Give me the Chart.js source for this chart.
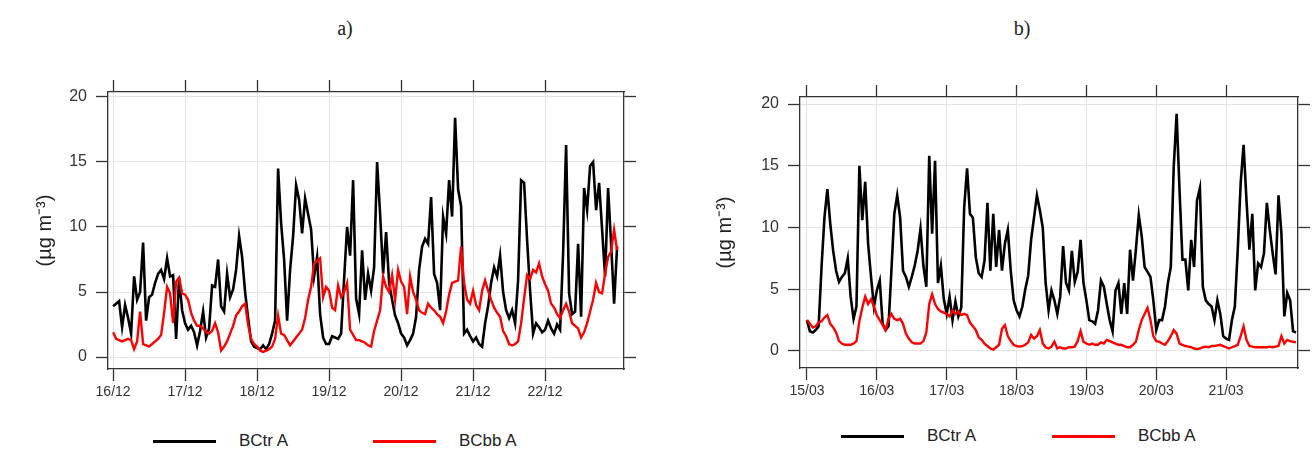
<!DOCTYPE html>
<html>
<head>
<meta charset="utf-8">
<script src="https://cdn.jsdelivr.net/npm/chart.js@4.4.0/dist/chart.umd.min.js"></script>
<style>
  body { margin: 0; background: #fff; width: 1312px; height: 450px; position: relative; overflow: hidden; font-family: "Liberation Sans", Arial, sans-serif; color: #222; }
  canvas { position: absolute; top: 0; }
  #chartA { left: 0; }
  #chartB { left: 656px; }
  .title { position: absolute; top: 14px; width: 40px; text-align: center; font-family: "Liberation Serif", serif; font-size: 20px; line-height: 28px; }
  .item { position: absolute; height: 24px; display: flex; align-items: center; font-size: 17px; white-space: nowrap; }
  .swatch { display: inline-block; width: 63px; height: 0; border-top: 3px solid #000; margin-right: 23px; }
</style>
</head>
<body>
<div class="title" style="left:325px">a)</div>
<div class="title" style="left:1002px">b)</div>

<div class="item" style="left:153px; top:429px"><span class="swatch"></span>BCtr A</div>
<div class="item" style="left:373px; top:429px"><span class="swatch" style="border-color:#ff0000"></span>BCbb A</div>
<div class="item" style="left:841px; top:424px"><span class="swatch"></span>BCtr A</div>
<div class="item" style="left:1052px; top:424px"><span class="swatch" style="border-color:#ff0000"></span>BCbb A</div>

<canvas id="chartA" width="656" height="450"></canvas>
<canvas id="chartB" width="656" height="450"></canvas>

<script>
// hourly readings
const SAMPLE_STEP_H = 1;

const daysA = ['16/12', '17/12', '18/12', '19/12', '20/12', '21/12', '22/12'];
const daysB = ['15/03', '16/03', '17/03', '18/03', '19/03', '20/03', '21/03'];
const yTicks = [0, 5, 10, 15, 20];

// a) December, from 16/12 00:00, one row = 12 h
const bctrA = [
  3.9, 4.1, 4.3, 2.3, 4.0, 3.0, 1.8, 6.2, 4.4, 5.0, 8.8, 2.8,
  4.6, 4.8, 5.7, 6.4, 6.7, 6.0, 7.6, 6.2, 6.3, 1.4, 6.1, 3.6,
  2.6, 2.1, 2.4, 1.9, 0.9, 2.0, 3.5, 1.5, 2.2, 5.5, 5.4, 7.5,
  3.9, 3.5, 6.4, 4.6, 5.2, 6.7, 9.3, 7.7, 5.0, 3.0, 1.2, 0.8,
  0.7, 0.6, 0.9, 0.6, 1.0, 1.8, 2.8, 14.5, 10.3, 7.5, 2.8, 6.7,
  9.3, 13.2, 12.1, 9.5, 12.2, 11.0, 9.8, 6.2, 7.7, 3.3, 1.5, 1.0,
  1.0, 1.6, 1.5, 1.4, 1.8, 6.0, 10.0, 7.8, 13.6, 4.5, 3.3, 8.2,
  4.4, 6.4, 5.1, 6.9, 15.0, 11.0, 6.4, 9.6, 5.7, 4.4, 3.2, 2.6,
  1.8, 1.5, 0.9, 1.3, 1.8, 3.1, 6.7, 8.5, 9.1, 8.7, 12.3, 6.4,
  5.7, 3.6, 10.8, 9.5, 13.6, 10.8, 18.4, 12.9, 11.6, 1.8, 2.1, 1.6,
  1.2, 1.5, 1.0, 0.8, 2.6, 3.9, 5.7, 6.9, 6.2, 7.8, 5.0, 3.6,
  3.0, 3.6, 2.6, 5.9, 13.6, 13.4, 9.0, 5.1, 1.8, 2.6, 2.3, 1.9,
  2.1, 2.8, 2.2, 1.8, 2.5, 2.1, 8.0, 16.3, 4.9, 3.3, 3.5, 8.7,
  3.1, 13.0, 11.3, 14.7, 15.0, 11.3, 13.4, 9.8, 6.2, 13.0, 8.7, 4.1,
  8.5];
const bcbbA = [
  1.9, 1.4, 1.3, 1.2, 1.3, 1.4, 1.3, 0.6, 1.2, 3.5, 1.0, 0.9,
  0.8, 1.0, 1.2, 1.4, 1.7, 3.4, 5.4, 4.9, 2.6, 5.8, 6.1, 4.9,
  4.8, 4.4, 3.4, 2.8, 2.4, 2.4, 2.2, 1.9, 1.8, 2.0, 2.6, 1.9,
  0.5, 0.8, 1.2, 1.8, 2.4, 3.2, 3.5, 3.9, 4.1, 2.5, 1.4, 1.0,
  0.8, 0.5, 0.4, 0.5, 0.6, 0.8, 1.4, 3.2, 1.8, 1.7, 1.3, 0.9,
  1.2, 1.5, 1.8, 2.1, 3.0, 4.4, 5.4, 7.2, 7.4, 7.6, 4.6, 5.4,
  5.1, 3.8, 3.6, 5.5, 4.6, 5.0, 5.7, 2.1, 1.7, 1.3, 1.3, 1.2,
  1.1, 0.9, 0.8, 2.0, 2.8, 3.6, 6.2, 5.4, 5.0, 6.3, 4.4, 6.7,
  5.8, 5.4, 3.3, 6.2, 5.0, 4.4, 3.6, 3.4, 3.3, 4.1, 3.8, 3.6,
  3.3, 3.1, 2.6, 3.5, 4.8, 5.7, 5.8, 5.9, 8.5, 5.7, 4.4, 4.1,
  5.1, 4.0, 3.6, 5.1, 5.9, 5.1, 4.4, 3.8, 3.4, 3.1, 2.0, 1.6,
  1.0, 0.9, 1.0, 1.2, 2.6, 4.5, 6.3, 6.0, 6.7, 6.5, 7.2, 6.2,
  5.6, 5.1, 4.1, 3.8, 3.3, 3.0, 3.6, 4.1, 3.5, 2.6, 2.4, 2.2,
  1.5, 1.9, 2.6, 3.5, 4.4, 5.7, 5.0, 4.9, 6.4, 7.7, 8.1, 9.8,
  8.2];

// b) March, from 15/03 00:00, one row = 12 h
const bctrB = [
  2.5, 1.6, 1.5, 1.7, 2.0, 6.8, 10.8, 13.1, 10.3, 8.1, 6.5, 5.6,
  6.0, 6.3, 7.5, 4.4, 2.6, 3.6, 15.0, 10.6, 13.7, 8.7, 6.0, 3.6,
  4.9, 5.7, 2.2, 1.7, 2.0, 6.5, 11.1, 12.6, 10.8, 6.5, 6.0, 5.2,
  6.0, 6.9, 8.1, 9.9, 6.9, 5.2, 15.8, 9.5, 15.4, 5.5, 6.9, 4.2,
  3.0, 4.4, 2.5, 4.0, 2.8, 3.5, 11.6, 14.8, 11.1, 10.8, 7.6, 6.3,
  6.0, 7.3, 12.0, 6.5, 11.1, 6.8, 9.8, 6.5, 8.7, 9.8, 6.5, 4.1,
  3.3, 2.8, 3.6, 5.0, 6.1, 9.0, 10.8, 12.6, 11.4, 10.0, 5.5, 3.3,
  4.9, 4.1, 3.0, 4.4, 8.5, 5.5, 4.9, 8.1, 5.6, 6.4, 9.0, 5.5,
  4.1, 2.5, 2.4, 2.2, 3.3, 5.7, 5.2, 3.8, 2.5, 1.6, 4.9, 5.5,
  3.0, 5.5, 3.0, 8.2, 5.7, 8.2, 11.0, 9.3, 6.8, 6.4, 6.0, 4.1,
  1.7, 2.5, 2.5, 3.6, 5.5, 6.8, 14.9, 19.2, 13.0, 7.4, 7.4, 4.9,
  9.0, 6.8, 12.2, 13.2, 5.2, 4.1, 3.8, 3.6, 2.5, 4.1, 3.0, 1.2,
  1.0, 0.9, 2.5, 3.6, 8.2, 13.6, 16.7, 12.2, 8.2, 11.1, 4.9, 7.1,
  6.8, 7.9, 12.0, 9.8, 7.9, 6.2, 12.6, 9.5, 2.8, 4.7, 4.1, 1.6,
  1.5];
const bcbbB = [
  2.5, 2.2, 1.9, 2.0, 2.3, 2.4, 2.7, 2.9, 2.2, 1.9, 1.5, 0.8,
  0.6, 0.5, 0.5, 0.5, 0.6, 0.8, 2.4, 3.5, 4.4, 3.8, 4.2, 3.6,
  2.9, 2.5, 2.1, 1.7, 2.6, 3.0, 2.6, 2.5, 2.6, 2.2, 1.4, 1.0,
  0.7, 0.6, 0.6, 0.6, 0.8, 1.5, 3.8, 4.6, 3.8, 3.4, 3.2, 3.1,
  3.0, 2.8, 3.3, 3.0, 3.2, 2.9, 3.0, 2.9, 2.3, 2.0, 1.7, 1.1,
  0.9, 0.6, 0.4, 0.2, 0.1, 0.3, 0.5, 1.8, 2.1, 1.2, 0.8, 0.5,
  0.4, 0.35, 0.4, 0.5, 0.7, 1.3, 1.0, 1.2, 1.7, 0.6, 0.3, 0.2,
  0.35, 0.75, 0.2, 0.3, 0.2, 0.2, 0.3, 0.3, 0.35, 0.8, 1.6, 0.75,
  0.6, 0.5, 0.6, 0.5, 0.5, 0.7, 0.6, 0.9, 0.8, 0.7, 0.6, 0.5,
  0.5, 0.4, 0.3, 0.3, 0.5, 0.75, 1.7, 2.5, 3.0, 3.5, 2.5, 1.2,
  0.8, 0.75, 0.6, 0.5, 0.8, 1.2, 1.7, 1.4, 0.6, 0.5, 0.4, 0.35,
  0.3, 0.2, 0.15, 0.2, 0.3, 0.35, 0.3, 0.4, 0.4, 0.45, 0.5, 0.4,
  0.3, 0.2, 0.3, 0.4, 0.5, 1.2, 2.0, 0.9, 0.4, 0.35, 0.3, 0.3,
  0.3, 0.3, 0.3, 0.35, 0.3, 0.35, 0.4, 1.2, 0.6, 0.9, 0.8, 0.75,
  0.7];

const FONT = '"Liberation Sans", Arial, sans-serif';
const AXIS_COLOR = '#333';
const GRID_COLOR = '#e4e4e4';

function toPoints(values) {
  return values.map((v, i) => ({ x: i * SAMPLE_STEP_H, y: v }));
}

// pins an axis box to a fixed size so the plot box lands where it should
function fixSize(w, h) {
  return function (scale) {
    if (w !== null) scale.width = w;
    if (h !== null) scale.height = h;
    scale.paddingLeft = 0;
    scale.paddingRight = 0;
    scale.paddingTop = 0;
    scale.paddingBottom = 0;
  };
}

function makeChart(id, p) {
  const dayTicks = s => { s.ticks = p.days.map((d, i) => ({ value: i * 24 })); };
  const valTicks = s => { s.ticks = yTicks.map(v => ({ value: v })); };
  const grid = { color: GRID_COLOR, lineWidth: 1, tickColor: AXIS_COLOR, tickLength: 12, tickWidth: 1.3 };
  const outer = { drawOnChartArea: false, tickColor: AXIS_COLOR, tickLength: 12, tickWidth: 1.3 };
  const border = { color: AXIS_COLOR, width: 1.3 };

  return new Chart(document.getElementById(id), {
    type: 'line',
    data: {
      datasets: [
        { label: 'BCbb A', data: toPoints(p.red), borderColor: '#ff0000', borderWidth: 2.4, pointRadius: 0, tension: 0, xAxisID: 'x', yAxisID: 'y' },
        { label: 'BCtr A', data: toPoints(p.black), borderColor: '#000000', borderWidth: 2.6, pointRadius: 0, tension: 0, xAxisID: 'x', yAxisID: 'y' }
      ]
    },
    options: {
      responsive: false,
      animation: false,
      devicePixelRatio: 1,
      layout: { padding: 0 },
      plugins: { legend: { display: false }, tooltip: { enabled: false } },
      scales: {
        x: {
          type: 'linear', position: 'bottom', min: p.xMin, max: p.xMax,
          afterBuildTicks: dayTicks,
          ticks: { callback: v => p.days[Math.round(v / 24)], font: { family: FONT, size: 14 }, color: AXIS_COLOR, padding: 3, maxRotation: 0, autoSkip: false },
          grid: grid, border: border,
          afterFit: fixSize(null, p.bottomH)
        },
        xTop: {
          type: 'linear', position: 'top', min: p.xMin, max: p.xMax,
          afterBuildTicks: dayTicks,
          ticks: { display: false },
          grid: outer, border: border,
          afterFit: fixSize(null, p.topH)
        },
        y: {
          type: 'linear', position: 'left', min: p.yMin, max: p.yMax,
          afterBuildTicks: valTicks,
          ticks: { font: { family: FONT, size: 16 }, color: AXIS_COLOR, padding: 9 },
          grid: grid, border: border,
          title: { display: true, text: '(\u00b5g m\u207b\u00b3)', font: { family: FONT, size: 20 }, color: '#222', padding: { top: p.titlePad, bottom: 0 } },
          afterFit: fixSize(p.leftW, null)
        },
        yRight: {
          type: 'linear', position: 'right', min: p.yMin, max: p.yMax,
          afterBuildTicks: valTicks,
          ticks: { display: false },
          grid: outer, border: border,
          afterFit: fixSize(p.rightW, null)
        }
      }
    }
  });
}

makeChart('chartA', {
  days: daysA, black: bctrA, red: bcbbA,
  xMin: -1.7, xMax: 170.3, yMin: -0.92, yMax: 20.38,
  leftW: 108, rightW: 32, topH: 92, bottomH: 81, titlePad: 33
});

makeChart('chartB', {
  days: daysB, black: bctrB, red: bcbbB,
  xMin: -2.4, xMax: 168.7, yMin: -1.38, yMax: 20.57,
  leftW: 144, rightW: 14, topH: 97, bottomH: 82, titlePad: 57
});
</script>
</body>
</html>
